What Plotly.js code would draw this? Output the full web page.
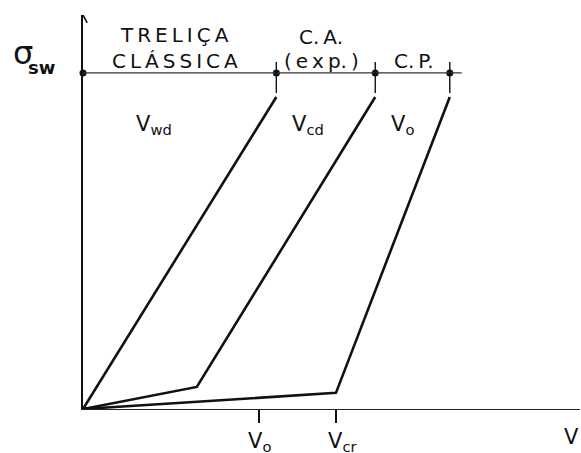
<!DOCTYPE html>
<html>
<head>
<meta charset="utf-8">
<script src="https://cdn.plot.ly/plotly-3.0.1.min.js"></script>
<style>
  html, body { margin: 0; padding: 0; background: #fff; }
  #chart { width: 581px; height: 453px; }
</style>
</head>
<body>
<div id="chart"></div>
<script>
// Stirrup stress (sigma_sw) versus shear force V for three models
const sigmaSwLevel = 85.3;            // yield level of the stirrups
const vwdX = [0, 38.9];               // classical truss (Mörsch)
const vwdY = [0, 79.2];
const vcdX = [0, 22.9, 58.8];         // reinforced concrete, experimental
const vcdY = [0, 5.6, 79.2];
const voX  = [0, 50.9, 73.8];         // prestressed concrete
const voY  = [0, 4.1, 79.2];
const limitX = [0, 38.9, 58.8, 73.8]; // region limits on the yield line
const xTickVals = [35.4, 50.9];
const xTickText = ['V<sub>o</sub>', 'V<sub>cr</sub>'];
const curveLabels = ['V<sub>wd</sub>', 'V<sub>cd</sub>', 'V<sub>o</sub>'];
const curveLabelX = [14.2, 45.2, 64.2];
const regionTop = ['T\u2009R\u2009E\u2009L\u2009I\u2009Ç\u2009A', 'C.\u2009A.'];
const regionBottom = ['C\u2009L\u2009Á\u2009S\u2009S\u2009I\u2009C\u2009A', '(\u2009e\u2009x\u2009p.\u2009)', 'C.\u2009P.'];
const regionCenterX = [18.5, 47.9, 66.6];

const FONT = 'DejaVu Sans, Arial, sans-serif';
const ink = '#111';

const curve = (x, y) => ({
  x: x, y: y, type: 'scatter', mode: 'lines',
  line: { color: ink, width: 2.6 }, hoverinfo: 'skip', cliponaxis: false
});

const traces = [
  curve(vwdX, vwdY),
  curve(vcdX, vcdY),
  curve(voX, voY),
  {
    x: limitX, y: limitX.map(() => sigmaSwLevel), type: 'scatter', mode: 'markers',
    marker: { color: ink, size: 7 }, hoverinfo: 'skip', cliponaxis: false
  }
];

const shapes = [
  // yield line of the stirrups
  { type: 'line', xref: 'x', yref: 'y', x0: -0.8, x1: 76.2, y0: sigmaSwLevel, y1: sigmaSwLevel,
    line: { color: '#333', width: 1.4 } },
  // arrow head on the stress axis
  { type: 'path', xref: 'x', yref: 'y', path: 'M -0.85,98.0 L 0,100 L 0.85,98.0',
    line: { color: ink, width: 1.6 } }
];
// short vertical marks at the region limits
limitX.slice(1).forEach(x => {
  shapes.push({ type: 'line', xref: 'x', yref: 'y', x0: x, x1: x, y0: 88.1, y1: 80.2,
    line: { color: ink, width: 1.4 } });
});

const annotations = [];
const txt = (text, x, y, size, extra) => Object.assign({
  text: text, x: x, y: y, xref: 'x', yref: 'y', showarrow: false,
  xanchor: 'center', yanchor: 'middle',
  font: { family: FONT, size: size, color: ink }
}, extra || {});

curveLabels.forEach((t, i) => annotations.push(txt(t, curveLabelX[i], 72.1, 21)));
annotations.push(txt(regionTop[0], regionCenterX[0], 94.9, 20));
annotations.push(txt(regionTop[1], regionCenterX[1], 94.3, 20));
regionBottom.forEach((t, i) => annotations.push(txt(t, regionCenterX[i], 88.2, 20)));
// labels under the V axis
xTickText.forEach((t, i) => annotations.push(txt(t, xTickVals[i] + (i ? 1.4 : 0.2), -0.084, 21, { yref: 'paper' })));
annotations.push(txt('V', 100, -0.071, 21, { yref: 'paper', xanchor: 'right', borderpad: 0 }));
// axis name sigma_sw on the left
annotations.push(txt('σ', -0.121, 0.9036, 32, { xref: 'paper', yref: 'paper' }));
annotations.push(txt('sw', -0.0845, 0.8655, 18, { xref: 'paper', yref: 'paper',
  font: { family: FONT, size: 18, color: ink, weight: 'bold' } }));

const layout = {
  width: 581, height: 453,
  margin: { l: 83, r: 1, t: 15, b: 44 },
  paper_bgcolor: '#fff', plot_bgcolor: '#fff',
  showlegend: false,
  xaxis: {
    range: [0, 100], showgrid: false, zeroline: false,
    showline: true, linecolor: '#222', linewidth: 1.2,
    tickvals: xTickVals, ticks: 'outside', ticklen: 13, tickwidth: 1.3, tickcolor: ink,
    showticklabels: false, fixedrange: true
  },
  yaxis: {
    range: [0, 100], showgrid: false, zeroline: false,
    showline: true, linecolor: ink, linewidth: 1.6,
    ticks: '', showticklabels: false, fixedrange: true
  },
  shapes: shapes,
  annotations: annotations
};

Plotly.newPlot('chart', traces, layout, { displayModeBar: false, staticPlot: true });
</script>
</body>
</html>
